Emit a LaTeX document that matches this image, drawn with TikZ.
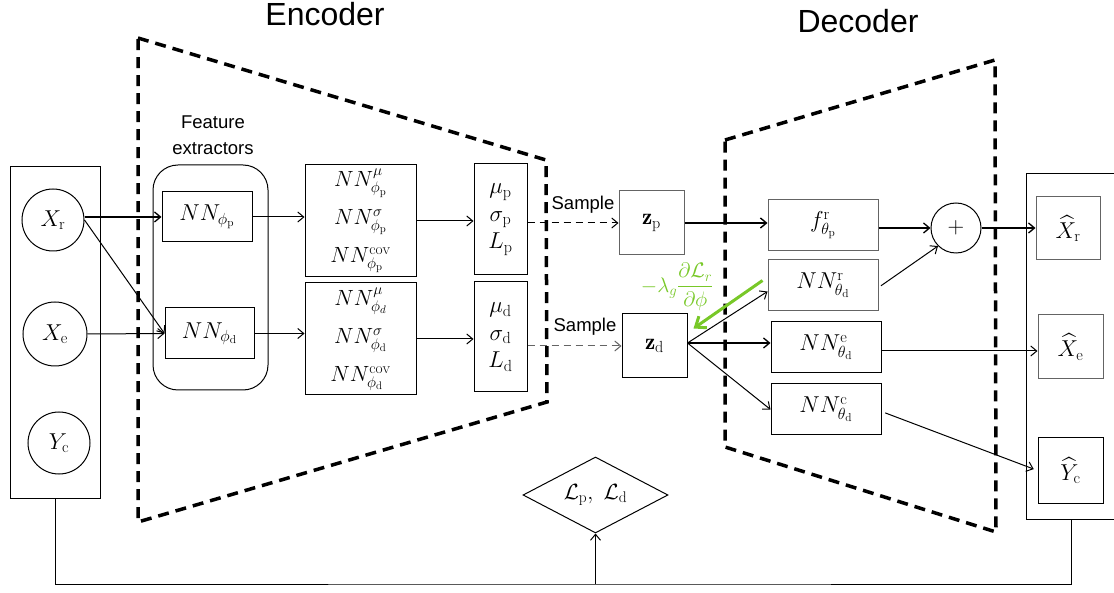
\RequirePackage{fix-cm}
\documentclass[tikz,border=0pt]{standalone}
\usepackage{fontspec}
\usepackage{amsmath}
\usetikzlibrary{arrows.meta,shapes.geometric}
\newfontfamily\sansf{Liberation Sans}
\definecolor{grad}{RGB}{120,200,40}
\definecolor{gline}{RGB}{100,100,100}
\tikzset{
  bx/.style={draw, line width=1pt, inner sep=0pt, align=center},
  gbx/.style={bx, draw=gline},
  arr/.style={line width=1pt, -{Straight Barb[length=6pt,width=10pt]}},
  frame/.style={line width=3.5pt, dash pattern=on 11pt off 7pt},
  mth/.style={font=\fontsize{23}{27}\selectfont},
  lbl/.style={font=\sansf\fontsize{18.5}{26}\selectfont, align=center},
}
\begin{document}
\begin{tikzpicture}[x=1pt,y=-1pt]
\useasboundingbox (0,0) rectangle (1114,593);
% titles
\node[font=\sansf\fontsize{32}{36}\selectfont] (enc) at (325,14) {Encoder};
\node[font=\sansf\fontsize{32}{36}\selectfont] (dec) at (858,21) {Decoder};
% dashed frames
\draw[frame] (138,38) -- (546,160) -- (547,402) -- (138,522) -- cycle;
\draw[frame] (725,140) -- (995,60) -- (996,532) -- (725,447) -- cycle;
% inputs
\node[bx, minimum width=90pt, minimum height=331pt] (inbox) at (55,332.5) {};
\node[bx, circle, minimum size=62pt, mth] (Xr) at (53,220) {$X_{\mathrm{r}}$};
\node[bx, circle, minimum size=64pt, mth] (Xe) at (55,334) {$X_{\mathrm{e}}$};
\node[bx, circle, minimum size=62pt, mth] (Yc) at (59,443) {$Y_{\mathrm{c}}$};
% feature extractors
\node[lbl] (featlbl) at (213,135) {Feature\\extractors};
\node[draw, line width=1pt, rounded corners=25pt, minimum width=115pt, minimum height=225pt] (feat) at (210.5,277.5) {};
\node[bx, minimum width=90pt, minimum height=50pt, mth] (NNpp) at (207,217) {$NN_{\phi_{\mathrm{p}}}$};
\node[bx, minimum width=89pt, minimum height=51pt, mth] (NNpd) at (209.5,333.5) {$NN_{\phi_{\mathrm{d}}}$};
% encoder heads
\node[bx, minimum width=111pt, minimum height=112pt, font=\fontsize{22}{38}\selectfont] (NNp3) at (360.5,221)
  {$NN^{\mu}_{\phi_{\mathrm{p}}}$\\$NN^{\sigma}_{\phi_{\mathrm{p}}}$\\$NN^{\mathrm{cov}}_{\phi_{\mathrm{p}}}$};
\node[bx, minimum width=111pt, minimum height=112pt, font=\fontsize{22}{38}\selectfont] (NNd3) at (360.5,339)
  {$NN^{\mu}_{\phi_{d}}$\\$NN^{\sigma}_{\phi_{\mathrm{d}}}$\\$NN^{\mathrm{cov}}_{\phi_{\mathrm{d}}}$};
\node[bx, minimum width=53pt, minimum height=111pt, font=\fontsize{23}{27.5}\selectfont] (mup) at (500.5,219.5)
  {$\mu_{\mathrm{p}}$\\$\sigma_{\mathrm{p}}$\\$L_{\mathrm{p}}$};
\node[bx, minimum width=53pt, minimum height=110pt, font=\fontsize{23}{27.5}\selectfont] (mud) at (500.5,337)
  {$\mu_{\mathrm{d}}$\\$\sigma_{\mathrm{d}}$\\$L_{\mathrm{d}}$};
% latent
\node[gbx, minimum width=65pt, minimum height=64pt, mth] (zp) at (651.5,223) {$\mathbf{z}_{\mathrm{p}}$};
\node[bx, minimum width=65pt, minimum height=64pt, mth] (zd) at (654.5,346) {$\mathbf{z}_{\mathrm{d}}$};
\node[lbl] (s1) at (583,205) {Sample};
\node[lbl] (s2) at (585,327) {Sample};
% decoder heads
\node[gbx, minimum width=110pt, minimum height=51pt, mth] (f) at (823,225.5) {$f^{\mathrm{r}}_{\theta_{\mathrm{p}}}$};
\node[gbx, minimum width=110pt, minimum height=51pt, mth] (NNr) at (823,285.5) {$NN^{\mathrm{r}}_{\theta_{\mathrm{d}}}$};
\node[bx, minimum width=110pt, minimum height=51pt, mth] (NNe) at (826,347.5) {$NN^{\mathrm{e}}_{\theta_{\mathrm{d}}}$};
\node[bx, minimum width=110pt, minimum height=51pt, mth] (NNc) at (826,409.5) {$NN^{\mathrm{c}}_{\theta_{\mathrm{d}}}$};
\node[bx, circle, minimum size=50pt, mth] (plus) at (956,228) {$+$};
% outputs
\node[bx, minimum width=90pt, minimum height=345pt] (outbox) at (1071,346.5) {};
\node[gbx, minimum width=64pt, minimum height=63pt, mth] (Xrh) at (1068,228.5) {$\widehat{X}_{\mathrm{r}}$};
\node[gbx, minimum width=65pt, minimum height=64pt, mth] (Xeh) at (1070.5,347) {$\widehat{X}_{\mathrm{e}}$};
\node[bx, minimum width=65pt, minimum height=65pt, mth] (Ych) at (1070.5,470.5) {$\widehat{Y}_{\mathrm{c}}$};
% loss
\node[bx, diamond, aspect=1.9, minimum width=145pt, minimum height=76pt, font=\fontsize{22}{26}\selectfont] (loss) at (595.5,495) {$\mathcal{L}_{\mathrm{p}},\ \mathcal{L}_{\mathrm{d}}$};
% connectors encoder
\draw[arr, line width=1.3pt] (Xr.east |- NNpp.west) -- (NNpp.west);
\draw[arr] (Xr.east) -- (NNpd.west);
\draw[arr] (Xe.east) -- (NNpd.west);
\draw[arr] (NNpp.east) -- (NNpp.east -| NNp3.west);
\draw[arr] (NNpd.east) -- (NNpd.east -| NNd3.west);
\draw[arr] (NNp3.east) -- (NNp3.east -| mup.west);
\draw[arr] (NNd3.east) -- (NNd3.east -| mud.west);
\draw[arr, dash pattern=on 7pt off 5pt] (mup.east |- zp.west) -- (zp.west);
\draw[arr, dash pattern=on 7pt off 5pt, draw=gline] (mud.east |- zd.west) -- (zd.west);
% connectors decoder
\draw[arr, line width=1.4pt] (zp.east) -- (zp.east -| f.west);
\coordinate (fan) at ([yshift=3pt]zd.east);
\draw[arr] (fan) -- ([yshift=-6pt]NNr.west);
\draw[arr, line width=1.3pt] (fan) -- (fan -| NNe.west);
\draw[arr] (fan) -- (NNc.west);
\draw[arr, line width=1.3pt] (plus.west -| f.east) -- (plus.west);
\draw[arr, shorten <=3pt] ([yshift=-2pt]NNr.east) -- (plus.south west);
\draw[arr, line width=1.3pt] (plus.east) -- (plus.east -| Xrh.west);
\draw[arr] ([yshift=-3.5pt]NNe.east) -- ([yshift=-3.5pt]NNe.east -| Xeh.west);
\draw[arr, shorten <=4pt, shorten >=4pt] ([yshift=-2pt]NNc.east) -- (Ych.west);
% gradient
\draw[grad, line width=3pt, -{Straight Barb[length=9pt,width=14pt]}] ([shift={(-5pt,5pt)}]NNr.west) -- ([shift={(6pt,-15pt)}]zd.north east);
\node[text=grad, font=\fontsize{21}{24}\selectfont, anchor=east] (glbl) at (717,287) {$-\lambda_g\dfrac{\partial\mathcal{L}_r}{\partial\phi}$};
% feedback
\coordinate (fb) at (595.5,584);
\draw[line width=1pt] (inbox.south) |- (fb) -| (outbox.south);
\draw[arr] (fb) -- (loss.south);
\end{tikzpicture}
\end{document}
